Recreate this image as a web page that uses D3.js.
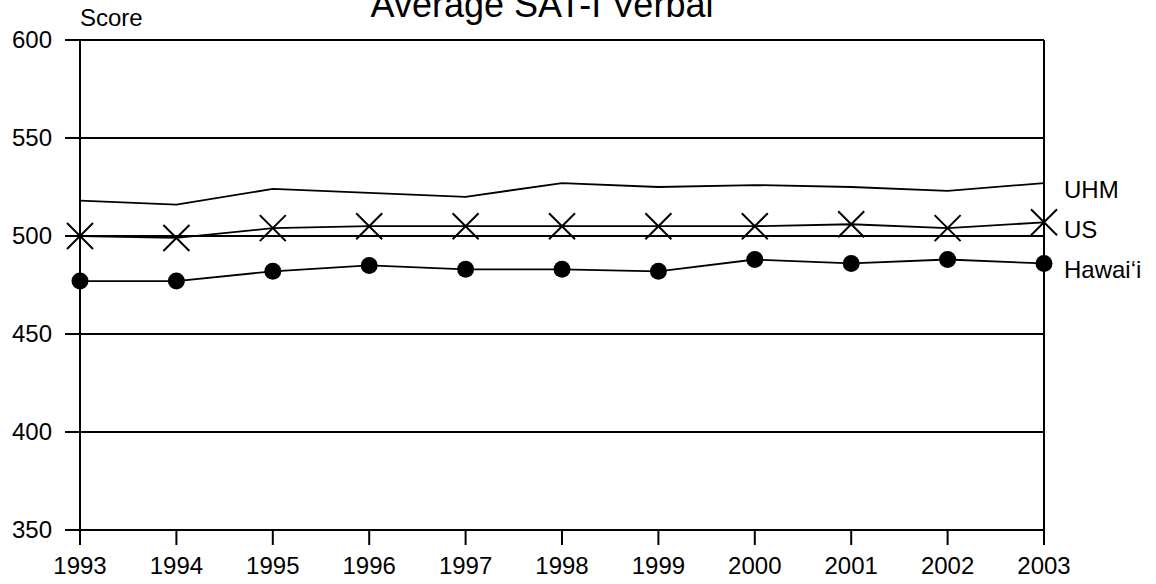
<!DOCTYPE html>
<html>
<head>
<meta charset="utf-8">
<script src="https://cdn.jsdelivr.net/npm/d3@7"></script>
<style>
  body { margin: 0; background: #fff; }
  svg { display: block; font-family: "Liberation Sans", Arial, sans-serif; }
</style>
</head>
<body>
<svg id="chart" width="1156" height="584"></svg>
<script>
const years = [1993, 1994, 1995, 1996, 1997, 1998, 1999, 2000, 2001, 2002, 2003];
const uhm = [518, 516, 524, 522, 520, 527, 525, 526, 525, 523, 527];
const us = [500, 499, 504, 505, 505, 505, 505, 505, 506, 504, 507];
const hawaii = [477, 477, 482, 485, 483, 483, 482, 488, 486, 488, 486];
const yTicks = [350, 400, 450, 500, 550, 600];
const title = "Average SAT-I Verbal";
const yTitle = "Score";
const seriesNames = ["UHM", "US", "Hawai\u2018i"];

(function () {
const svg = d3.select("#chart");
const pLeft = 80, pRight = 1044, pTop = 40, pBottom = 530;

const x = d3.scalePoint().domain(years).range([pLeft, pRight]);
const y = d3.scaleLinear().domain([350, 600]).range([pBottom, pTop]);

// gridlines (with left tick extension)
svg.append("g").selectAll("line").data(yTicks).join("line")
  .attr("x1", pLeft - 15).attr("x2", pRight)
  .attr("y1", d => y(d)).attr("y2", d => y(d))
  .attr("stroke", "#000").attr("stroke-width", 2);

// y labels
svg.append("g").selectAll("text").data(yTicks).join("text")
  .attr("x", 52).attr("y", d => y(d)).attr("dy", "0.35em")
  .attr("text-anchor", "end").attr("font-size", 24).text(d => d);

// left axis line and right border
svg.append("line").attr("x1", pLeft).attr("x2", pLeft).attr("y1", pTop).attr("y2", pBottom + 15)
  .attr("stroke", "#000").attr("stroke-width", 2);
svg.append("line").attr("x1", pRight).attr("x2", pRight).attr("y1", pTop).attr("y2", pBottom)
  .attr("stroke", "#000").attr("stroke-width", 2);

// x ticks
svg.append("g").selectAll("line").data(years).join("line")
  .attr("x1", d => x(d)).attr("x2", d => x(d))
  .attr("y1", pBottom).attr("y2", pBottom + 15)
  .attr("stroke", "#000").attr("stroke-width", 2);
svg.append("g").selectAll("text").data(years).join("text")
  .attr("x", d => x(d)).attr("y", 574)
  .attr("text-anchor", "middle").attr("font-size", 24).text(d => d);

// title
svg.append("text").attr("x", 542).attr("y", 17).attr("text-anchor", "middle")
  .attr("font-size", 36).text(title);
svg.append("text").attr("x", 80).attr("y", 26).attr("font-size", 24).text(yTitle);

const line = d3.line().x((d, i) => x(years[i])).y(d => y(d));

// UHM
svg.append("path").datum(uhm).attr("d", line).attr("fill", "none")
  .attr("stroke", "#000").attr("stroke-width", 1.8);
// US
svg.append("path").datum(us).attr("d", line).attr("fill", "none")
  .attr("stroke", "#000").attr("stroke-width", 1.8);
const s = 13;
svg.append("g").selectAll("path").data(us).join("path")
  .attr("d", (d, i) => {
    const cx = x(years[i]), cy = y(d);
    return `M${cx - s},${cy - s}L${cx + s},${cy + s}M${cx - s},${cy + s}L${cx + s},${cy - s}`;
  })
  .attr("stroke", "#000").attr("stroke-width", 2).attr("fill", "none");
// Hawaii
svg.append("path").datum(hawaii).attr("d", line).attr("fill", "none")
  .attr("stroke", "#000").attr("stroke-width", 1.8);
svg.append("g").selectAll("circle").data(hawaii).join("circle")
  .attr("cx", (d, i) => x(years[i])).attr("cy", d => y(d)).attr("r", 8.5)
  .attr("fill", "#000");

// series labels
const labelY = [198, 238, 278];
svg.append("g").selectAll("text").data(seriesNames).join("text")
  .attr("x", 1064).attr("y", (d, i) => labelY[i])
  .attr("font-size", 24).text(d => d);
})();
</script>
</body>
</html>
